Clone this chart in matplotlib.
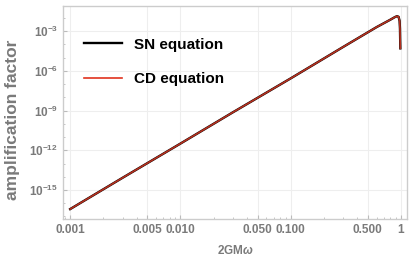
import matplotlib
matplotlib.use("Agg")
import matplotlib.pyplot as plt
from matplotlib.ticker import FixedLocator, NullFormatter, LogLocator

plt.rcParams['font.family'] = ['Liberation Sans', 'DejaVu Sans']
plt.rcParams['mathtext.fontset'] = 'custom'
plt.rcParams['mathtext.rm'] = 'Liberation Sans:bold'
plt.rcParams['mathtext.bf'] = 'Liberation Sans:bold'
plt.rcParams['mathtext.it'] = 'Liberation Sans:bold:italic'

# 2GMω vs amplification factor
omega = [0.001, 0.003, 0.01, 0.03, 0.1, 0.3, 0.6, 0.8, 0.88, 0.92, 0.95, 0.97, 0.978, 0.982, 0.985]
amp_sn = [3.6e-17, 8.5e-15, 3.2e-12, 7.5e-10, 2.7e-7, 6.5e-5, 2.0e-3, 7.3e-3, 1.15e-2, 1.35e-2, 1.2e-2, 6.0e-3, 1.5e-3, 2.0e-4, 5.0e-5]
amp_cd = amp_sn

xticks = [0.001, 0.005, 0.010, 0.050, 0.100, 0.500, 1]
xtick_labels = ['0.001', '0.005', '0.010', '0.050', '0.100', '0.500', '1']
yticks = [1e-3, 1e-6, 1e-9, 1e-12, 1e-15]
ytick_labels = [r'$10^{-3}$', r'$10^{-6}$', r'$10^{-9}$', r'$10^{-12}$', r'$10^{-15}$']

gray = '#7a7a7a'

fig = plt.figure(figsize=(4.15, 2.59), dpi=100)
ax = fig.add_axes([0.152, 0.154, 0.829, 0.823])

ax.plot(omega, amp_sn, color='black', lw=1.7, label='SN equation')
ax.plot(omega, amp_cd, color='#b5301f', lw=1.2, label='CD equation')

ax.set_xscale('log')
ax.set_yscale('log')
ax.set_xlim(10**-3.064, 10**0.055)
ax.set_ylim(10**-17.2, 10**-1.1)

ax.set_xticks(xticks)
ax.set_xticklabels(xtick_labels)
ax.xaxis.set_minor_locator(LogLocator(base=10, subs=range(1, 10), numticks=20))
ax.xaxis.set_minor_formatter(NullFormatter())
ax.set_yticks(yticks)
ax.set_yticklabels(ytick_labels)
ax.yaxis.set_minor_locator(FixedLocator([10.0**k for k in range(-17, 0)]))
ax.yaxis.set_minor_formatter(NullFormatter())

ax.grid(True, which='major', color='#eeeeee', lw=0.8)
ax.set_axisbelow(True)

ax.tick_params(which='both', direction='in', colors='#bbbbbb', labelcolor=gray, labelsize=8.5)
ax.tick_params(which='major', length=3)
ax.tick_params(which='minor', length=1.5)
for lab in ax.get_xticklabels() + ax.get_yticklabels():
    lab.set_fontweight('bold')
for s in ax.spines.values():
    s.set_color('#cccccc')
    s.set_linewidth(1.0)

ax.set_xlabel(r'2GM$\omega$', color=gray, fontsize=8.5, fontweight='bold', labelpad=6)
ax.set_ylabel('amplification factor', color=gray, fontsize=12.5, fontweight='bold')
ax.yaxis.set_label_coords(-0.125, 0.465)

leg = ax.legend(loc='upper left', frameon=False, fontsize=11, handlelength=2.5,
                labelspacing=1.35, bbox_to_anchor=(0.02, 0.915))
leg.get_lines()[1].set_color('#e0321e')
for t in leg.get_texts():
    t.set_fontweight('bold')

fig.savefig('out.png', dpi=100)
